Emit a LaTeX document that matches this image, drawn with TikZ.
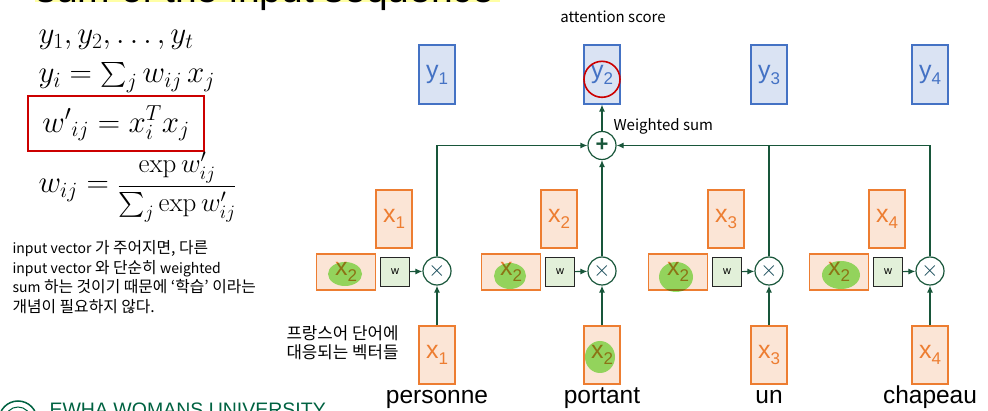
\RequirePackage{fix-cm}
\documentclass[tikz,border=0pt]{standalone}
\usepackage{amsmath}
\usepackage[no-math]{fontspec}
\setmainfont{Liberation Sans}
\newfontfamily\kor{Noto Sans CJK KR}
\usetikzlibrary{arrows.meta}
\definecolor{boxorange}{RGB}{237,125,49}
\definecolor{fillorange}{RGB}{251,229,214}
\definecolor{boxblue}{RGB}{68,114,196}
\definecolor{fillblue}{RGB}{218,227,243}
\definecolor{fillw}{RGB}{226,240,217}
\definecolor{linkgreen}{RGB}{24,86,58}
\definecolor{multteal}{RGB}{16,70,84}
\definecolor{hlgreen}{RGB}{150,235,110}
\definecolor{boxred}{RGB}{204,0,0}
\definecolor{titleyellow}{RGB}{255,255,165}
\definecolor{ewhagreen}{RGB}{0,98,65}

\newcommand{\xlab}[1]{{\fontsize{25}{25}\selectfont x}\raisebox{-6pt}{\fontsize{17}{17}\selectfont #1}}
\newcommand{\ylab}[1]{{\fontsize{25}{25}\selectfont y}\raisebox{-6pt}{\fontsize{17}{17}\selectfont #1}}
\newcommand{\lat}[1]{{\fontsize{14}{19.7}\selectfont #1}}

\tikzset{
  ybox/.style={draw=boxblue,fill=fillblue,line width=1.2pt,minimum width=36,minimum height=59,inner sep=0,text=boxblue},
  xbox/.style={draw=boxorange,fill=fillorange,line width=1.2pt,minimum width=36,minimum height=58,inner sep=0,text=boxorange},
  xwide/.style={draw=boxorange,fill=fillorange,line width=1.2pt,minimum width=59,minimum height=36,inner sep=0,text=boxorange},
  wbox/.style={draw=black!85,fill=fillw,line width=1.2pt,minimum size=29,inner sep=0,font=\fontsize{11}{11}\selectfont},
  opcircle/.style={circle,draw=linkgreen,fill=white,line width=1.2pt,minimum size=28,inner sep=0},
  link/.style={draw=linkgreen,line width=1.2pt},
  linkarrow/.style={link,-{Latex[length=7pt,width=6pt]}},
  word/.style={anchor=base,font=\fontsize{24.5}{24.5}\selectfont},
  formula/.style={anchor=base west,font=\fontsize{31}{37}\selectfont},
  blob/.style={fill=hlgreen,blend mode=multiply},
}

\begin{document}
\begin{tikzpicture}[x=1pt,y=-1pt]
    \useasboundingbox (0,0) rectangle (988,411);
    \clip (0,0) rectangle (988,411);
    % Title (cut off)
    \fill[titleyellow] (35,-40) rectangle (500,2);
    \node[anchor=base west,font=\fontsize{39}{39}\selectfont] (title) at (33,3)
      {sum of the input sequence};
    % Formulas
    \node[formula] (f1) at (35,44) {$y_1, y_2, \ldots, y_t$};
    \node[formula] (f2) at (35,83) {$y_i = \sum_j w_{ij}\, x_j$};
    \node[formula,draw=boxred,line width=1.6pt,anchor=center,minimum width=176,minimum height=55,inner sep=0]
      (f3) at (116,123.5) {${w'}_{ij} = x_i^T x_j$};
    \node[formula] (f4) at (35,193) {$w_{ij} = {}$\fontsize{27}{32}\selectfont$\dfrac{\exp w'_{ij}}{\sum_j \exp w'_{ij}}$};
    % Notes
    \node[anchor=north west,align=left,font=\kor\fontsize{15.8}{19.7}\selectfont] (note) at (9,237)
      {\lat{input vector} 가 주어지면, 다른\\\lat{input vector} 와 단순히 \lat{weighted}\\\lat{sum} 하는 것이기 때문에 ‘학습’ 이라는\\개념이 필요하지 않다.};
    \node[anchor=north west,align=left,font=\kor\fontsize{16.8}{19.5}\selectfont] (vecnote) at (283,322)
      {프랑스어 단어에\\대응되는 벡터들};
    % Groups
    \foreach \i/\X/\word in {1/437/personne, 2/602/portant, 3/769/un, 4/930/chapeau} {
      \node[ybox] (y\i) at (\X,74.5) {\ylab{\i}};
      \node[xbox] (t\i) at (\X-43,219) {\xlab{\i}};
      \node[xwide] (k\i) at (\X-91,272) {\xlab{2}};
      \node[wbox] (w\i) at (\X-42,272) {w};
      \node[opcircle,text=multteal,font=\fontsize{22}{22}\selectfont] (m\i) at (\X,271) {$\times$};
      \node[xbox] (b\i) at (\X,355) {\xlab{\i}};
      \node[word] (n\i) at (\X,403) {\word};
      \draw[linkarrow] (w\i) -- (m\i);
      \draw[linkarrow] (b\i) -- (m\i);
    }
    % Weighted sum
    \node[opcircle,text=linkgreen,font=\bfseries\fontsize{22}{22}\selectfont] (plus) at (602,145.5) {+};
    \draw[linkarrow] (m1) |- (plus);
    \draw[linkarrow] (m2) -- (plus);
    \draw[linkarrow] (m4) |- (plus);
    \draw[link] (m3) -- (m3 |- plus);
    \draw[linkarrow] (plus) -- (y2);
    \node[anchor=west,font=\kor\fontsize{15}{15}\selectfont] (wsum) at (610,126) {Weighted sum};
    \node[font=\kor\fontsize{15}{15}\selectfont] (score) at (613,17) {attention score};
    \node[circle,draw=boxred,line width=1.6pt,minimum size=36,inner sep=0] (hl) at (602,79.3) {};
    % Highlights
    \fill[blob] (345,274) ellipse (17 and 12);
    \fill[blob] (510,276) ellipse (16 and 13);
    \fill[blob] (676,277) ellipse (17 and 15);
    \fill[blob] (841,275) ellipse (19 and 14);
    \fill[blob] (600,357) ellipse (15 and 16);
    % Footer (cut off)
    \draw[ewhagreen,line width=1.5pt] (18,420) circle (19);
    \draw[ewhagreen,line width=1pt] (18,420) circle (13);
    \node[anchor=base west,text=ewhagreen,font=\fontsize{19.5}{19.5}\selectfont] (ewha) at (46,417)
      {EWHA WOMANS UNIVERSITY};
  \end{tikzpicture}
\end{document}
